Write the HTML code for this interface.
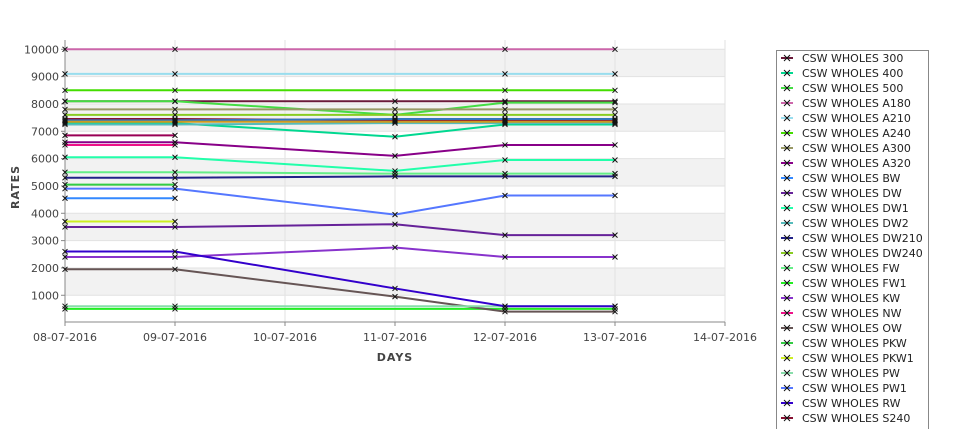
<!DOCTYPE html>
<html><head><meta charset="utf-8"><style>
html,body{margin:0;background:#fff;overflow:hidden;width:975px;height:429px;font-family:"Liberation Sans","DejaVu Sans",sans-serif}
svg{display:block;overflow:hidden}
svg text{font-family:"DejaVu Sans","Liberation Sans",sans-serif}
</style></head><body>
<svg id="c" width="975" height="429" xmlns="http://www.w3.org/2000/svg"></svg>
<script>
const categories=["08-07-2016","09-07-2016","10-07-2016","11-07-2016","12-07-2016","13-07-2016","14-07-2016"];
const yTicks=[1000,2000,3000,4000,5000,6000,7000,8000,9000,10000];
const seriesNames=["CSW WHOLES 300","CSW WHOLES 400","CSW WHOLES 500","CSW WHOLES A180","CSW WHOLES A210","CSW WHOLES A240","CSW WHOLES A300","CSW WHOLES A320","CSW WHOLES BW","CSW WHOLES DW","CSW WHOLES DW1","CSW WHOLES DW2","CSW WHOLES DW210","CSW WHOLES DW240","CSW WHOLES FW","CSW WHOLES FW1","CSW WHOLES KW","CSW WHOLES NW","CSW WHOLES OW","CSW WHOLES PKW","CSW WHOLES PKW1","CSW WHOLES PW","CSW WHOLES PW1","CSW WHOLES RW","CSW WHOLES S240","CSW WHOLES S300","CSW WHOLES SW","CSW WHOLES W"];
const seriesColors=["#6b1a3a","#00d890","#44dd44","#cc66aa","#99ddee","#44dd00","#999966","#880088","#3388ff","#662299","#22ffaa","#55bbbb","#222288","#88cc22","#66ee88","#22ee22","#8833cc","#ee1188","#665555","#33cc44","#ccee22","#88ddaa","#5577ff","#3300cc","#881133","#3377bb","#990055","#cc9922"];
const seriesValues=[
[8100,8100,null,8100,8100,8100],
[7300,7300,null,6800,7250,7250],
[8100,8100,null,7600,8050,8050],
[10000,10000,null,null,10000,10000],
[9100,9100,null,null,9100,9100],
[8500,8500,null,null,8500,8500],
[7800,7800,null,7800,7800,7800],
[6600,6600,null,6100,6500,6500],
[4550,4550,null,null,null,null],
[3500,3500,null,3600,3200,3200],
[6050,6050,null,5550,5950,5950],
[7250,7250,null,7300,7300,7300],
[5300,5300,null,5350,5350,5350],
[7600,7600,null,7600,7600,7600],
[5500,5500,null,5450,5450,5450],
[500,500,null,null,500,500],
[2400,2400,null,2750,2400,2400],
[6500,6500,null,null,null,null],
[1950,1950,null,950,400,400],
[5050,5050,null,null,null,null],
[3700,3700,null,null,null,null],
[600,600,null,null,600,600],
[4900,4900,null,3950,4650,4650],
[2600,2600,null,1250,600,600],
[7450,7450,null,7400,7400,7400],
[7400,7400,null,7450,7450,7450],
[6850,6850,null,null,null,null],
[7350,7350,null,7350,7350,7350]];
const NS="http://www.w3.org/2000/svg";
const svg=document.getElementById('c');
const X0=65,DX=110,PT=40,PB=322,PR=725;
const xs=i=>X0+i*DX;
const ys=v=>49.3+(10000-v)*0.02733;
function el(t,a,p){const e=document.createElementNS(NS,t);for(const k in a)e.setAttribute(k,a[k]);(p||svg).appendChild(e);return e;}
for(let v=0;v<10000;v+=1000){
  const r=el('rect',{x:X0,y:ys(v+1000),width:PR-X0,height:ys(v)-ys(v+1000),fill:(v/1000)%2===1?'#f2f2f2':'#ffffff'});
  
  
}
yTicks.forEach(t=>{
  const g=el('line',{x1:X0,x2:PR,y1:ys(t),y2:ys(t),stroke:'#e2e2e2','stroke-width':1});
  
  
  const tk=el('line',{x1:X0-4,x2:X0,y1:ys(t),y2:ys(t),stroke:'#888'});
  
  
  const tx=el('text',{x:X0-6,y:ys(t)+4,'text-anchor':'end','font-size':11,fill:'#444'});
  tx.textContent=t;
  
  
});
categories.forEach((c,i)=>{
  const g=el('line',{x1:xs(i),x2:xs(i),y1:PT,y2:PB,stroke:'#e2e2e2'});
  
  
  const tk=el('line',{x1:xs(i),x2:xs(i),y1:PB,y2:PB+4,stroke:'#888'});
  
  
  const tx=el('text',{x:xs(i),y:PB+19,'text-anchor':'middle','font-size':11,fill:'#444'});
  tx.textContent=c;
  
  
});
const ax=el('path',{d:`M${X0} ${PT}V${PB}H${PR}`,stroke:'#888',fill:'none'});


const xt=el('text',{x:395,y:361,'text-anchor':'middle','font-size':11,'font-weight':'bold',fill:'#444','letter-spacing':1});
xt.textContent='DAYS';


const yt=el('text',{x:0,y:0,transform:'translate(19,187) rotate(-90)','text-anchor':'middle','font-size':11,'font-weight':'bold',fill:'#444','letter-spacing':1});
yt.textContent='RATES';


seriesValues.forEach((vals,s)=>{
  const pts=[];vals.forEach((v,i)=>{if(v!==null)pts.push([xs(i),ys(v)]);});
  const p=el('polyline',{points:pts.map(q=>q.join(',')).join(' '),fill:'none',stroke:seriesColors[s],'stroke-width':2});
  
  
});
seriesValues.forEach((vals,s)=>{
  vals.forEach((v,i)=>{if(v===null)return;
    const m=el('path',{d:`M${xs(i)-2.5} ${ys(v)-2.5}L${xs(i)+2.5} ${ys(v)+2.5}M${xs(i)-2.5} ${ys(v)+2.5}L${xs(i)+2.5} ${ys(v)-2.5}`,stroke:'#111','stroke-width':1});
    
    
  });
});
const lb=el('rect',{x:776.5,y:50.5,width:152,height:385,fill:'#fff',stroke:'#888'});


seriesNames.forEach((n,i)=>{
  const y=58+i*15;
  if(y>440)return;
  const g=el('g',{});
  
  
  el('line',{x1:781,x2:793,y1:y,y2:y,stroke:seriesColors[i],'stroke-width':2},g);
  el('path',{d:`M784 ${y-3}L790 ${y+3}M784 ${y+3}L790 ${y-3}`,stroke:'#111'},g);
  const t=el('text',{x:802,y:y+4,'font-size':11,fill:'#222'},g);
  t.textContent=n;
});
</script>
</body></html>
